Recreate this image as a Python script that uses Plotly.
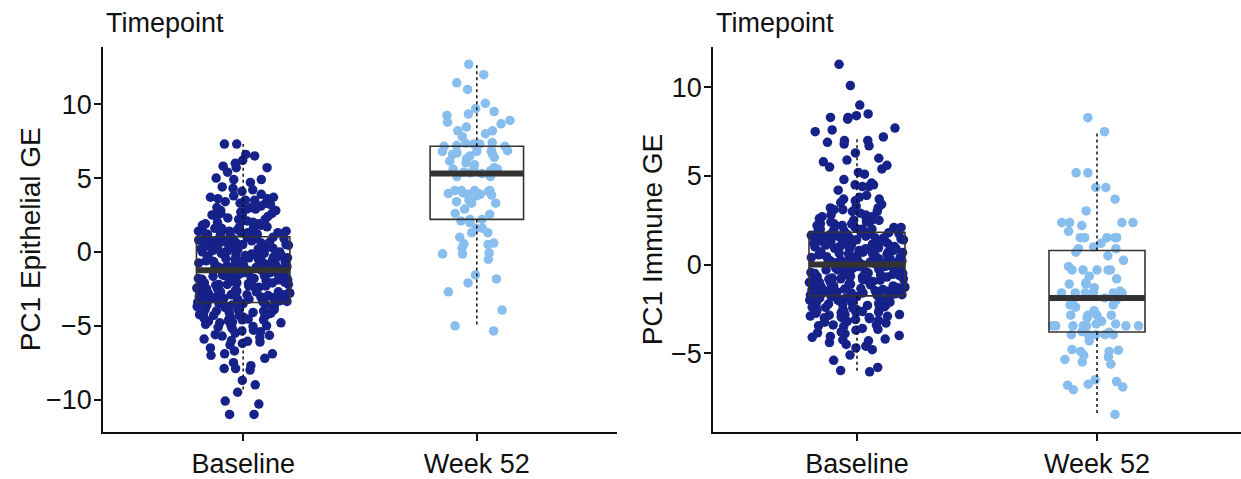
import numpy as np
import plotly.graph_objects as go

# ---------------- data ----------------
categories = ["Baseline", "Week 52"]

# PC1 Epithelial GE
epi_baseline = [
    7.3, 7.3, 6.6, 6.5, 6.2, 6.0, 5.8, 5.7, 5.7, 5.4,
    5.0, 4.9, 4.9, 4.7, 4.4, 4.3, 4.2, 4.1, 3.9, 3.8,
    3.7, 3.7, 3.6, 3.5, 3.5, 3.4, 3.3, 3.3, 3.2, 3.1,
    3.0, 3.0, 2.9, 2.8, 2.8, 2.7, 2.6, 2.6, 2.5, 2.4,
    2.4, 2.3, 2.2, 2.2, 2.1, 2.0, 2.0, 1.9, 1.9, 1.8,
    1.8, 1.7, 1.7, 1.6, 1.6, 1.5, 1.5, 1.5, 1.4, 1.4,
    1.4, 1.3, 1.3, 1.3, 1.2, 1.2, 1.2, 1.1, 1.1, 1.1,
    3.6, 2.9, 2.5, 1.9, 1.6,
    1.0, 1.0, 0.9, 0.9, 0.8, 0.8, 0.7, 0.7, 0.6, 0.6,
    0.5, 0.5, 0.4, 0.4, 0.3, 0.3, 0.2, 0.2, 0.1, 0.1,
    0.0, 0.0, -0.1, -0.1, -0.2, -0.2, -0.3, -0.3, -0.4, -0.4,
    -0.5, -0.5, -0.6, -0.6, -0.7, -0.7, -0.8, -0.8, -0.9, -0.9,
    -1.0, -1.0, -1.1, -1.1, -1.2, -1.2, 0.95, 0.85, 0.65, 0.45,
    0.25, 0.05, -0.15, -0.35, -0.55, -0.75, -0.95, -1.15, 0.75, 0.35,
    -0.25, -0.65, -1.05, 0.55, 0.15, -0.45, -0.85, 0.0, -0.3, -0.6,
    0.8, 0.2, -0.2, -1.2, -1.0,
    -1.3, -1.3, -1.4, -1.4, -1.5, -1.5, -1.6, -1.6, -1.7, -1.7,
    -1.8, -1.8, -1.9, -1.9, -2.0, -2.0, -2.1, -2.1, -2.2, -2.2,
    -2.3, -2.3, -2.4, -2.4, -2.5, -2.5, -2.6, -2.6, -2.7, -2.7,
    -2.8, -2.8, -2.9, -2.9, -3.0, -3.0, -3.1, -3.1, -3.2, -3.2,
    -3.3, -3.3, -3.4, -3.4, -1.35, -1.45, -1.55, -1.65, -1.75, -1.85,
    -1.95, -2.05, -2.15, -2.25, -2.35, -2.45, -2.55, -2.65, -2.75, -2.85,
    -2.95, -3.05, -3.15, -3.25, -3.35, -1.5, -1.8, -2.1, -2.4, -2.7,
    -3.0, -3.3, -1.6, -2.2, -2.9,
    -3.5, -3.5, -3.6, -3.6, -3.7, -3.7, -3.8, -3.8, -3.9, -3.9,
    -4.0, -4.0, -4.1, -4.1, -4.2, -4.2, -4.3, -4.3, -4.4, -4.4,
    -4.5, -4.5, -4.6, -4.6, -4.7, -4.8, -4.8, -4.9, -5.0, -5.0,
    -5.1, -5.2, -5.3, -5.4, -5.5, -5.6, -5.7, -5.8, -5.9, -6.0,
    -6.1, -6.2, -6.3, -6.5, -6.7, -6.9, -6.9, -7.0, -7.2, -7.5,
    -7.7, -7.9, -7.9, -8.0, -8.7, -9.0, -9.5, -10.1, -10.3, -11.0,
    -11.0, -3.55, -3.75, -3.95, -4.15, -4.35, -4.55, -4.75, -5.05, -5.35,
    -5.65, -6.05, -4.25, -3.65, -4.65,
]
epi_week52 = [
    12.7, 12.0, 11.45, 11.0, 10.06, 9.7, 9.5, 9.33, 9.24, 8.9,
    8.78, 8.67, 8.45, 8.2, 8.2, 8.0, 7.8, 7.4, 7.35, 7.3,
    7.3, 7.2, 7.15, 7.15, 6.85, 6.85, 6.8, 6.8, 6.8, 6.7,
    6.6, 6.6, 6.5, 6.4, 6.3, 6.14, 6.03, 5.9, 5.7, 5.6,
    5.6, 5.6, 5.5, 5.4, 5.35, 5.3, 5.1, 5.1, 4.15, 4.15,
    4.15, 4.15, 4.1, 4.0, 4.0, 3.95, 3.9, 3.9, 3.85, 3.8,
    3.5, 3.4, 3.3, 3.3, 2.9, 2.6, 2.55, 2.2, 2.2, 2.1,
    1.98, 1.6, 1.6, 1.3, 1.3, 1.0, 0.6, 0.55, 0.5, 0.26,
    -0.07, -0.13, -0.15, -0.5, -1.56, -1.83, -2.1, -2.7, -3.94, -5.0,
    -5.35,
]

# PC1 Immune GE
imm_baseline = [
    11.3, 10.1, 9.0, 8.5, 8.4, 8.3, 8.3, 8.2, 7.7, 7.6,
    7.5, 7.2, 7.0, 7.0, 6.9, 6.8, 6.7, 6.3, 6.0, 5.9,
    5.8, 5.6, 5.5, 5.4, 5.2, 5.1, 4.8, 4.6, 4.5, 4.5,
    4.4, 4.4, 4.2, 3.9, 3.7, 3.7, 3.6, 3.5, 3.4, 3.3,
    3.2, 3.2, 3.1, 3.0, 3.0, 2.9, 2.8, 2.8, 2.7, 2.7,
    2.6, 2.6, 2.5, 2.5, 2.4, 2.4, 2.3, 2.3, 2.2, 2.2,
    2.2, 2.1, 2.1, 2.1, 2.0, 2.0, 2.0, 1.9, 1.9, 1.9,
    3.8, 3.1, 2.5, 2.3, 1.95,
    1.8, 1.8, 1.75, 1.7, 1.7, 1.65, 1.6, 1.6, 1.55, 1.5,
    1.5, 1.45, 1.4, 1.4, 1.35, 1.3, 1.3, 1.25, 1.2, 1.2,
    1.15, 1.1, 1.1, 1.05, 1.0, 1.0, 0.95, 0.9, 0.9, 0.85,
    0.8, 0.8, 0.75, 0.7, 0.7, 0.65, 0.6, 0.6, 0.55, 0.5,
    0.5, 0.45, 0.4, 0.4, 0.35, 0.3, 0.3, 0.25, 0.2, 0.2,
    0.15, 0.1, 0.1, 0.05, 0.05, 0.02, 1.78, 1.62, 1.48, 1.32,
    1.18, 1.02, 0.88, 0.72, 0.58, 0.42, 0.28, 0.12, 1.52, 1.08,
    0.68, 0.32, 1.72, 0.92, 0.18,
    -0.02, -0.05, -0.1, -0.1, -0.15, -0.2, -0.2, -0.25, -0.3, -0.3,
    -0.35, -0.4, -0.4, -0.45, -0.5, -0.5, -0.55, -0.6, -0.6, -0.65,
    -0.7, -0.7, -0.75, -0.8, -0.8, -0.85, -0.9, -0.9, -0.95, -1.0,
    -1.0, -1.05, -1.1, -1.1, -1.15, -1.2, -1.2, -1.25, -1.3, -1.3,
    -1.35, -1.4, -1.4, -1.45, -1.5, -1.5, -1.55, -1.6, -1.6, -1.65,
    -1.7, -1.7, -1.75, -0.08, -0.28, -0.48, -0.68, -0.88, -1.08, -1.28,
    -1.48, -1.68, -0.12, -0.38, -0.62, -0.82, -1.02, -1.22, -1.42, -1.62,
    -0.18, -0.58, -0.98, -1.38, -1.72,
    -1.8, -1.85, -1.9, -1.95, -2.0, -2.05, -2.1, -2.15, -2.2, -2.25,
    -2.3, -2.35, -2.4, -2.45, -2.5, -2.55, -2.6, -2.65, -2.7, -2.75,
    -2.8, -2.85, -2.9, -2.95, -3.0, -3.05, -3.1, -3.2, -3.3, -3.4,
    -3.4, -3.5, -3.6, -3.7, -3.8, -3.9, -4.0, -4.1, -4.2, -4.3,
    -4.4, -4.5, -4.6, -4.7, -4.8, -5.1, -5.4, -5.8, -5.98, -6.05,
    -1.82, -1.92, -2.02, -2.12, -2.22, -2.32, -2.42, -2.52, -2.62, -2.72,
    -2.82, -2.92, -3.02, -3.15, -3.25, -3.45, -3.65, -3.85, -4.05, -4.25,
    -1.88, -2.08, -2.38, -2.68, -2.98,
]
imm_week52 = [
    8.29, 7.5, 5.18, 5.18, 4.35, 4.35, 3.69, 3.03, 2.37, 2.37,
    2.37, 2.37, 2.2, 1.88, 1.52, 1.52, 1.52, 1.52, 1.52, 1.2,
    1.0, 0.9, 0.9,
    0.7, 0.5, 0.24, -0.1, -0.3, -0.3, -0.3, -0.3, -0.3, -0.65,
    -0.8, -1.02, -1.1, -1.1, -1.3, -1.5, -1.6, -1.6, -1.6, -1.6,
    -1.6, -1.6, -1.88,
    -2.0, -2.1, -2.27, -2.27, -2.4, -2.6, -2.85, -2.85, -2.85, -2.85,
    -3.0, -3.2, -3.35, -3.35, -3.45, -3.45, -3.45, -3.45, -3.45, -3.45,
    -3.45, -3.78, -3.82,
    -3.95, -3.95, -3.95, -3.95, -3.95, -4.3, -4.79, -4.83, -4.9, -4.9,
    -5.12, -5.21, -5.35, -5.49, -5.62, -6.5, -6.6, -6.75, -6.8, -6.9,
    -7.06, -8.45,
]

panels = [
    ("PC1 Epithelial GE", epi_baseline, epi_week52),
    ("PC1 Immune GE", imm_baseline, imm_week52),
]

# ---------------- styling ----------------
W, H = 1241, 479
NAVY = "#16228A"
LIGHT = "#88BEEE"
BOXLINE = "#333333"
FONT = "Liberation Sans, Arial, Helvetica, sans-serif"
TXT = "#111111"
BOX_W = 0.4
PT_W = 0.40
FS_TICK = 27
FS_TITLE = 28

x_domains = [[103 / W, 617 / W], [713 / W, 1.0]]
y_domain = [1 - 443 / H, 1 - 48 / H]
title_x = [30 / W, 652 / W]
legend_x = [104 / W, 714 / W]


def box_stats(vals):
    v = np.asarray(vals, dtype=float)
    q1, med, q3 = np.percentile(v, [25, 50, 75])
    iqr = q3 - q1
    lo = v[v >= q1 - 1.5 * iqr].min()
    hi = v[v <= q3 + 1.5 * iqr].max()
    return q1, med, q3, lo, hi


def bands(vals):
    """split sorted values into lower tail / core / upper tail so the
    library's density-scaled jitter spreads the sparse tails as well"""
    s = sorted(vals)
    k = max(12, int(round(0.08 * len(s))))
    return [s[:k], s[k:len(s) - k], s[len(s) - k:]]


fig = go.Figure()
positions = [1, 2]
colors = [NAVY, LIGHT]

# points (box traces with invisible boxes, library jitter)
for pi, (ytitle, base, wk) in enumerate(panels):
    xa = "x" if pi == 0 else "x2"
    ya = "y" if pi == 0 else "y2"
    for pos, vals, col in zip(positions, [base, wk], colors):
        for part in bands(vals):
            fig.add_trace(go.Box(
                y=part, x0=pos, xaxis=xa, yaxis=ya,
                boxpoints="all", jitter=1.0, pointpos=0, width=PT_W,
                line=dict(width=0, color="rgba(0,0,0,0)"),
                fillcolor="rgba(0,0,0,0)",
                marker=dict(color=col, size=9.5, opacity=1, line=dict(width=0)),
                showlegend=False, hoverinfo="skip",
            ))

# box outlines
for pi, (ytitle, base, wk) in enumerate(panels):
    xa = "x" if pi == 0 else "x2"
    ya = "y" if pi == 0 else "y2"
    for pos, vals in zip(positions, [base, wk]):
        q1, med, q3, lo, hi = box_stats(vals)
        fig.add_trace(go.Box(
            x=[pos], q1=[q1], median=[med], q3=[q3],
            lowerfence=[q1], upperfence=[q3],
            width=BOX_W, whiskerwidth=0, boxpoints=False,
            line=dict(color=BOXLINE, width=1.6),
            fillcolor="rgba(0,0,0,0)",
            xaxis=xa, yaxis=ya, showlegend=False, hoverinfo="skip",
        ))

# whiskers and medians
for pi, (ytitle, base, wk) in enumerate(panels):
    xa = "x" if pi == 0 else "x2"
    ya = "y" if pi == 0 else "y2"
    for pos, vals in zip(positions, [base, wk]):
        q1, med, q3, lo, hi = box_stats(vals)
        fig.add_trace(go.Scatter(
            x=[pos, pos, None, pos, pos], y=[q3, hi, None, q1, lo],
            mode="lines", line=dict(color="#111111", width=1.5, dash="3px,3px"),
            xaxis=xa, yaxis=ya, showlegend=False, hoverinfo="skip",
        ))
        fig.add_trace(go.Scatter(
            x=[pos - BOX_W / 2, pos + BOX_W / 2], y=[med, med],
            mode="lines", line=dict(color=BOXLINE, width=6),
            xaxis=xa, yaxis=ya, showlegend=False, hoverinfo="skip",
        ))

layout = dict(
    width=W, height=H,
    margin=dict(l=0, r=0, t=0, b=0),
    paper_bgcolor="white", plot_bgcolor="white",
    font=dict(family=FONT, color=TXT, size=FS_TICK),
    showlegend=False,
    annotations=[],
)

axis_common = dict(
    showline=True, linecolor="#111111", linewidth=1.5,
    ticks="outside", ticklen=7, tickwidth=1.5, tickcolor="#111111",
    showgrid=False, zeroline=False,
    tickfont=dict(family=FONT, size=FS_TICK, color=TXT),
)

for pi, (ytitle, base, wk) in enumerate(panels):
    allv = np.asarray(base + wk, dtype=float)
    vmin, vmax = allv.min(), allv.max()
    pad = 0.05 * (vmax - vmin)
    sfx = "" if pi == 0 else "2"
    layout["xaxis" + sfx] = dict(
        axis_common, domain=x_domains[pi], range=[0.4, 2.6],
        tickmode="array", tickvals=positions, ticktext=categories,
        anchor="y" + sfx,
    )
    layout["yaxis" + sfx] = dict(
        axis_common, domain=y_domain, range=[vmin - pad, vmax + pad],
        tickmode="linear", tick0=0, dtick=5, ticklabelstandoff=-3,
        anchor="x" + sfx,
    )
    layout["annotations"].append(dict(
        text=ytitle, textangle=-90, xref="paper", yref="paper",
        x=title_x[pi], y=(y_domain[0] + y_domain[1]) / 2,
        xanchor="center", yanchor="middle", showarrow=False,
        font=dict(family=FONT, size=FS_TITLE, color=TXT),
    ))
    layout["annotations"].append(dict(
        text="Timepoint", xref="paper", yref="paper",
        x=legend_x[pi], y=1 - 24 / H,
        xanchor="left", yanchor="middle", showarrow=False,
        font=dict(family=FONT, size=FS_TICK, color=TXT),
    ))

fig.update_layout(**layout)
fig.write_html("out.html")
